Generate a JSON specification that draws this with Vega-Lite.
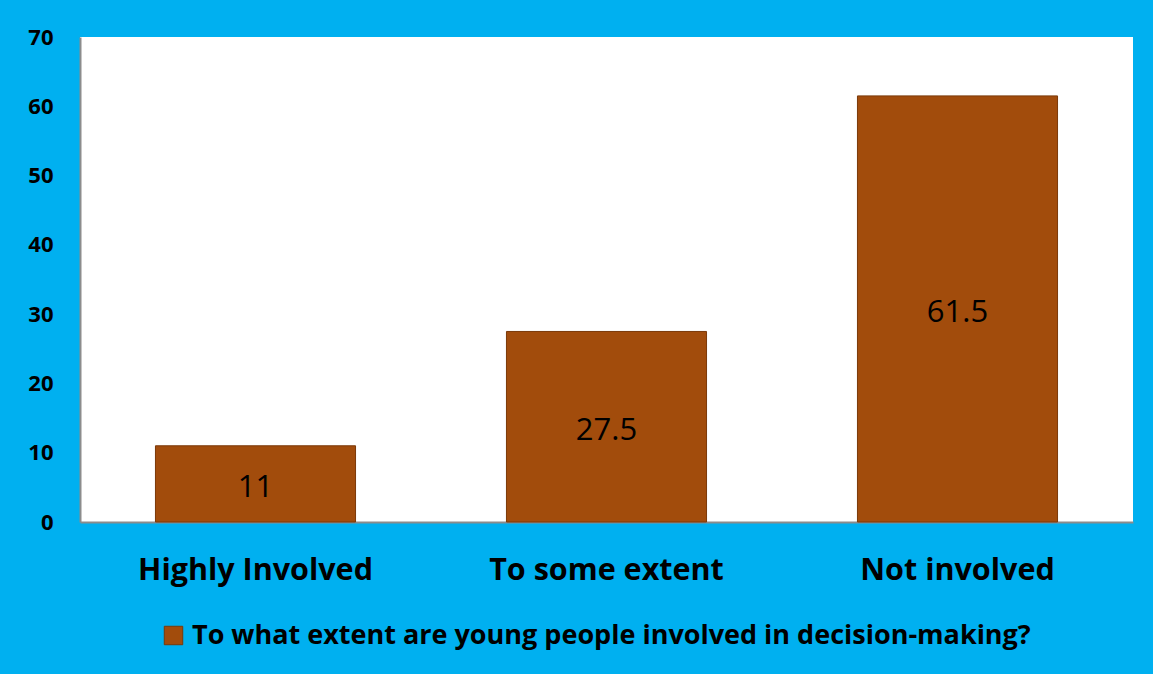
{
  "$schema": "https://vega.github.io/schema/vega-lite/v6.json",
  "width": 1053,
  "height": 485,
  "autosize": {"type": "none"},
  "padding": {"left": 80, "top": 37, "right": 20, "bottom": 152},
  "background": "#00B0F0",
  "data": {
    "values": [
      {"category": "Highly Involved", "value": 11, "series": "To what extent are young people involved in decision-making?"},
      {"category": "To some extent", "value": 27.5, "series": "To what extent are young people involved in decision-making?"},
      {"category": "Not involved", "value": 61.5, "series": "To what extent are young people involved in decision-making?"}
    ]
  },
  "encoding": {
    "x": {
      "field": "category",
      "type": "nominal",
      "sort": null,
      "scale": {"paddingInner": 0.43, "paddingOuter": 0.215},
      "axis": {
        "title": null,
        "labelAngle": 0,
        "labelFont": "Open Sans",
        "labelFontWeight": "bold",
        "labelFontSize": 30.5,
        "labelLimit": 0,
        "labelColor": "#000000",
        "labelPadding": 33,
        "ticks": false,
        "domain": true,
        "domainColor": "#8C8C8C",
        "domainWidth": 2
      }
    }
  },
  "layer": [
    {
      "mark": {"type": "bar", "color": "#A24C0C", "stroke": "#7A3808", "strokeWidth": 1},
      "encoding": {
        "y": {
          "field": "value",
          "type": "quantitative",
          "scale": {"domain": [0, 70], "nice": false},
          "axis": {
            "title": null,
            "values": [0, 10, 20, 30, 40, 50, 60, 70],
            "labelFont": "Open Sans",
            "labelFontWeight": "bold",
            "labelFontSize": 22,
            "labelColor": "#000000",
            "labelPadding": 27,
            "ticks": false,
            "grid": false,
            "domain": true,
            "domainColor": "#8C8C8C",
            "domainWidth": 2
          }
        },
        "color": {
          "field": "series",
          "type": "nominal",
          "scale": {"range": ["#A24C0C"]},
          "legend": {
            "title": null,
            "orient": "none",
            "legendX": 80,
            "legendY": 585,
            "direction": "horizontal",
            "symbolType": "square",
            "symbolSize": 340,
            "symbolStrokeColor": "#7A3808",
            "symbolStrokeWidth": 1,
            "labelFont": "Open Sans",
            "labelFontWeight": "bold",
            "labelFontSize": 27,
            "labelColor": "#000000",
            "labelLimit": 0,
            "labelOffset": 5
          }
        }
      }
    },
    {
      "transform": [{"calculate": "datum.value / 2", "as": "mid"}],
      "mark": {"type": "text", "font": "Open Sans", "fontSize": 31, "color": "#000000", "baseline": "middle", "dy": 4},
      "encoding": {
        "y": {"field": "mid", "type": "quantitative"},
        "text": {"field": "value", "type": "quantitative"}
      }
    }
  ],
  "config": {
    "view": {"fill": "#FFFFFF", "stroke": null}
  }
}
